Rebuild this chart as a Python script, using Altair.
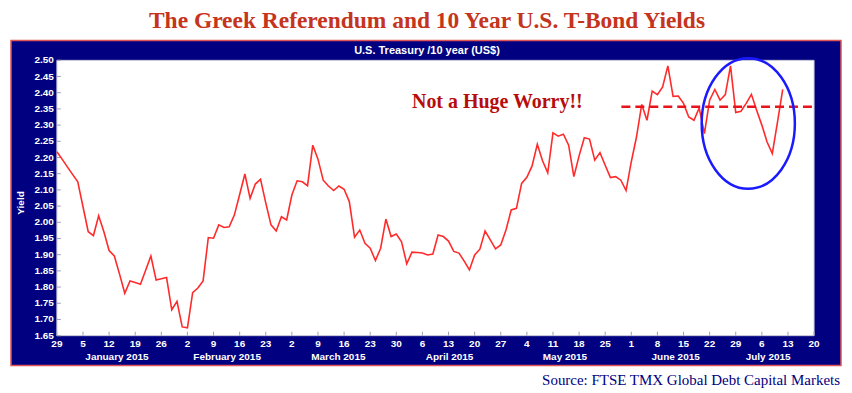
import altair as alt
import pandas as pd

# ---- data (10-year U.S. Treasury yield, business days) ----
yields = [
    2.218, 2.195, 2.171, 2.148, 2.125,   # Dec 29 - Jan 2
    2.048, 1.971, 1.959, 2.020, 1.971,   # Jan 5 - 9
    1.913, 1.896, 1.840, 1.781, 1.819,   # Jan 12 - 16
    1.814, 1.809, 1.852, 1.896, 1.822,   # Jan 19 - 23
    1.826, 1.830, 1.730, 1.756, 1.677,   # Jan 26 - 30
    1.674, 1.783, 1.797, 1.819, 1.953,   # Feb 2 - 6
    1.951, 1.992, 1.984, 1.986, 2.023,   # Feb 9 - 13
    2.086, 2.149, 2.074, 2.118, 2.133,   # Feb 16 - 20
    2.060, 1.992, 1.973, 2.017, 2.007,   # Feb 23 - 27
    2.084, 2.128, 2.125, 2.113, 2.238,   # Mar 2 - 6
    2.195, 2.130, 2.112, 2.098, 2.112,   # Mar 9 - 13
    2.102, 2.064, 1.954, 1.976, 1.935,   # Mar 16 - 20
    1.920, 1.882, 1.920, 2.010, 1.956,   # Mar 23 - 27
    1.964, 1.940, 1.872, 1.908, 1.907,   # Mar 30 - Apr 3
    1.905, 1.899, 1.902, 1.961, 1.956,   # Apr 6 - 10
    1.942, 1.910, 1.905, 1.880, 1.853,   # Apr 13 - 17
    1.899, 1.917, 1.973, 1.946, 1.918,   # Apr 20 - 24
    1.930, 1.976, 2.038, 2.043, 2.120,   # Apr 27 - May 1
    2.139, 2.174, 2.241, 2.190, 2.153,   # May 4 - 8
    2.276, 2.266, 2.272, 2.238, 2.141,   # May 11 - 15
    2.205, 2.261, 2.257, 2.192, 2.215,   # May 18 - 22
    2.176, 2.138, 2.141, 2.130, 2.098,   # May 25 - 29
    2.187, 2.264, 2.364, 2.315, 2.405,   # Jun 1 - 5
    2.394, 2.418, 2.483, 2.389, 2.390,   # Jun 8 - 12
    2.367, 2.325, 2.315, 2.353, 2.274,   # Jun 15 - 19
    2.377, 2.410, 2.377, 2.394, 2.483,   # Jun 22 - 26
    2.339, 2.343, 2.367, 2.395, 2.346,   # Jun 29 - Jul 3
    2.300, 2.248, 2.212, 2.310, 2.410,   # Jul 6 - 10
]
start_day = "2014-12-29"
week_ticks = [0, 5, 10, 15, 20, 25, 30, 35, 40, 45, 50, 55, 60, 65, 70, 75,
              80, 85, 90, 95, 100, 105, 110, 115, 120, 125, 130, 135, 140, 145]
week_labels = ["29", "5", "12", "19", "26", "2", "9", "16", "23", "2", "9", "16", "23", "30",
               "6", "13", "20", "27", "4", "11", "18", "25", "1", "8", "15", "22", "29",
               "6", "13", "20"]
y_ticks = [1.65, 1.70, 1.75, 1.80, 1.85, 1.90, 1.95, 2.00, 2.05, 2.10, 2.15,
           2.20, 2.25, 2.30, 2.35, 2.40, 2.45, 2.50]
month_names = ["January 2015", "February 2015", "March 2015", "April 2015",
               "May 2015", "June 2015", "July 2015"]
month_pos = [11.5, 32.6, 53.9, 75.2, 97.3, 118.5, 136.2]

title_text = "The Greek Referendum and 10 Year U.S. T-Bond Yields"
panel_text = "U.S. Treasury /10 year (US$)"
y_title = "Yield"
source_text = "Source: FTSE TMX Global Debt Capital Markets"
note_text = "Not a Huge Worry!!"
note_pos = [68.0, 2.353]
ref_from, ref_to, ref_value = 108.1, 145, 2.357
circle_center = [132.4, 2.305]

W, H = 759, 276
NAVY = "#000080"

dates = pd.bdate_range(start_day, periods=len(yields))
df = pd.DataFrame({"i": range(len(yields)), "date": dates.strftime("%Y-%m-%d"), "v": yields})

xscale = alt.Scale(domain=[0, 145], nice=False, zero=False)
yscale = alt.Scale(domain=[1.65, 2.50], nice=False, zero=False)
one = alt.Data(values=[{"k": 0}])


def X(field):
    return alt.X(field, scale=xscale, axis=None)


def Y(field):
    return alt.Y(field, scale=yscale, axis=None)


frame = alt.Chart(one).mark_rect(fill=NAVY, stroke="#e05555", strokeWidth=1.5).encode(
    x=alt.value(-46), x2=alt.value(W + 27), y=alt.value(-20), y2=alt.value(H + 30))
plot_bg = alt.Chart(one).mark_rect(fill="white", stroke="#c8c8dc", strokeWidth=1).encode(
    x=alt.value(0), x2=alt.value(W), y=alt.value(0), y2=alt.value(H))

xt = pd.DataFrame({"i": week_ticks, "t": week_labels})
yt = pd.DataFrame({"v": y_ticks})

x_tick_marks = alt.Chart(xt).mark_rule(color="#a0a0b4", strokeWidth=1).encode(
    x=X("i:Q"), y=alt.value(H - 4), y2=alt.value(H))
y_tick_marks = alt.Chart(yt).mark_rule(color="#a0a0b4", strokeWidth=1).encode(
    y=Y("v:Q"), x=alt.value(0), x2=alt.value(4))

x_labels = alt.Chart(xt).mark_text(
    align="center", baseline="middle", font="Liberation Sans", fontWeight="bold",
    fontSize=10, color="white").encode(x=X("i:Q"), y=alt.value(H + 8), text="t:N")
y_labels = alt.Chart(yt).mark_text(
    align="right", baseline="middle", font="Liberation Sans", fontWeight="bold",
    fontSize=10, color="white").encode(x=alt.value(-3), y=Y("v:Q"),
                                       text=alt.Text("v:Q", format=".2f"))
y_name = alt.Chart(pd.DataFrame({"t": [y_title]})).mark_text(
    align="center", baseline="middle", font="Liberation Sans", fontWeight="bold",
    fontSize=10, color="white", angle=270).encode(x=alt.value(-36), y=alt.value(143), text="t:N")

line = alt.Chart(df).mark_line(color="#ff2b2b", strokeWidth=1.6).encode(
    x=X("i:Q"), y=Y("v:Q"))

ref = alt.Chart(pd.DataFrame({"a": [ref_from], "b": [ref_to], "v": [ref_value]})).mark_rule(
    color="#e8141b", strokeWidth=2.5, strokeDash=[9, 5]).encode(
    x=X("a:Q"), x2="b:Q", y=Y("v:Q"))

ellipse = alt.Chart(pd.DataFrame({"i": [circle_center[0]], "v": [circle_center[1]]})).mark_point(
    shape="M -0.713 0 A 0.713 1 0 1 0 0.713 0 A 0.713 1 0 1 0 -0.713 0 Z",
    filled=False, stroke="#1a1aff", strokeWidth=2.5, opacity=1, size=17161).encode(
    x=X("i:Q"), y=Y("v:Q"))

note = alt.Chart(pd.DataFrame({"i": [note_pos[0]], "v": [note_pos[1]], "t": [note_text]})).mark_text(
    align="left", baseline="alphabetic", font="Liberation Serif", fontWeight="bold",
    fontSize=20, color="#b80c0c").encode(x=X("i:Q"), y=Y("v:Q"), text="t:N")

months = alt.Chart(pd.DataFrame({"i": month_pos, "t": month_names})).mark_text(
    align="center", baseline="middle", font="Liberation Sans", fontWeight="bold",
    fontSize=10, color="white").encode(x=X("i:Q"), y=alt.value(H + 21), text="t:N")

panel = alt.Chart(pd.DataFrame({"t": [panel_text]})).mark_text(
    align="center", baseline="middle", font="Liberation Sans", fontWeight="bold",
    fontSize=11, color="white").encode(x=alt.value(371), y=alt.value(-9), text="t:N")

title = alt.Chart(pd.DataFrame({"t": [title_text]})).mark_text(
    align="center", baseline="alphabetic", font="Liberation Serif", fontWeight="bold",
    fontSize=23.5, color="#c5341c").encode(x=alt.value(371), y=alt.value(-32), text="t:N")

source = alt.Chart(pd.DataFrame({"t": [source_text]})).mark_text(
    align="right", baseline="alphabetic", font="Liberation Serif",
    fontSize=15, color=NAVY).encode(x=alt.value(W + 26), y=alt.value(H + 49), text="t:N")

chart = alt.layer(frame, plot_bg, x_tick_marks, y_tick_marks, line, ref, ellipse, note,
                  x_labels, y_labels, y_name, months, panel, title, source).properties(
    width=W, height=H,
    autosize=alt.AutoSizeParams(type="none"),
    padding={"left": 49, "top": 52, "right": 30, "bottom": 53},
).configure_view(stroke=None)

chart.save("out.html", embed_options={"renderer": "svg", "actions": False})
